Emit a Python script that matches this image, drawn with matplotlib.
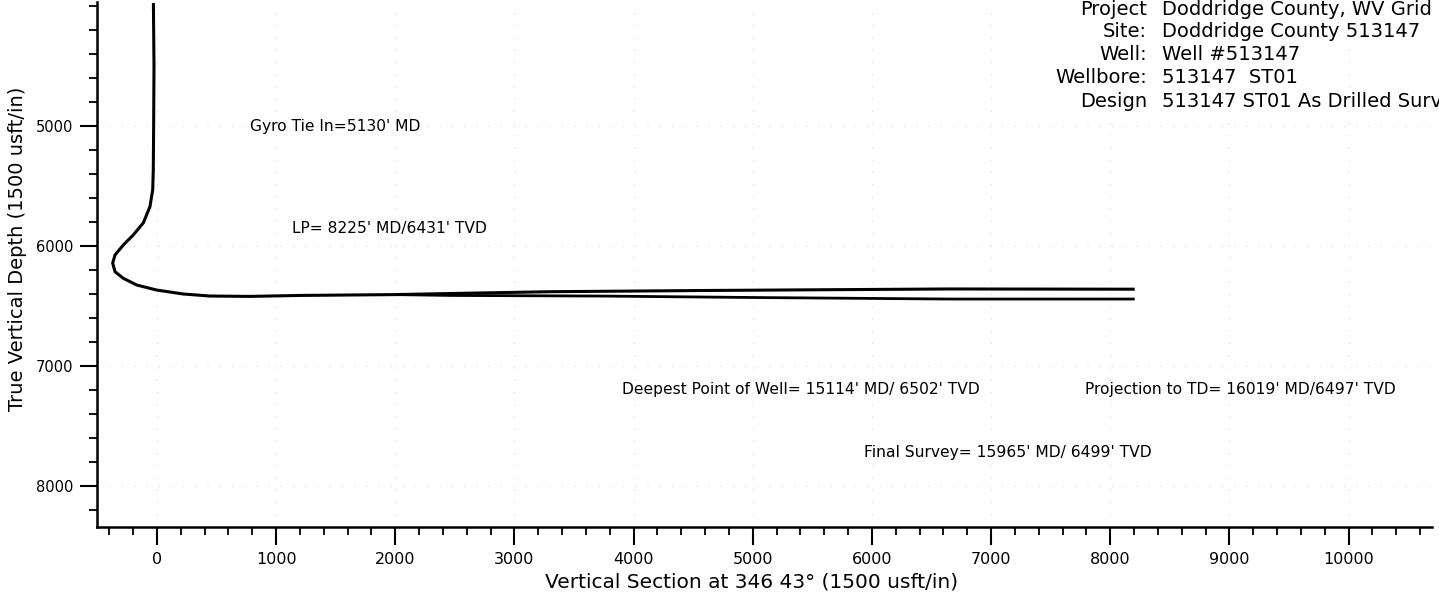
import matplotlib
matplotlib.use("Agg")
import matplotlib.pyplot as plt
from matplotlib.ticker import MultipleLocator

plt.rcParams['font.family'] = ['DejaVu Sans']

# Shared build section (vertical section ft, TVD ft)
curve_vs = [-30, -25, -28, -31, -36, -59, -115, -199, -283, -352, -372, -352,
            -283, -170, -3, 221, 445, 780, 1200, 2000]
curve_tvd = [3975, 4500, 5000, 5367, 5533, 5672, 5808, 5908, 5992, 6075, 6142,
             6214, 6269, 6325, 6367, 6400, 6417, 6420, 6412, 6405]

# Two laterals
upper_vs = [2000, 2458, 3297, 4555, 6653, 8205]
upper_tvd = [6405, 6396, 6381, 6371, 6358, 6360]
lower_vs = [2000, 2458, 3716, 4975, 6653, 8205]
lower_tvd = [6405, 6412, 6417, 6429, 6442, 6442]

annotations = [
    ("Gyro Tie In=5130' MD", 780, 5000),
    ("LP= 8225' MD/6431' TVD", 1133, 5858),
    ("Deepest Point of Well= 15114' MD/ 6502' TVD", 3901, 7192),
    ("Projection to TD= 16019' MD/6497' TVD", 7785, 7192),
    ("Final Survey= 15965' MD/ 6499' TVD", 5931, 7717),
]

header_labels = ["Project", "Site:", "Well:", "Wellbore:", "Design"]
header_values = ["Doddridge County, WV Grid", "Doddridge County 513147",
                 "Well #513147", "513147  ST01", "513147 ST01 As Drilled Survey"]

W, H = 1439, 599
fig = plt.figure(figsize=(W / 100, H / 100), dpi=100)
left_px, right_px, top_px, bot_px = 97.4, 1432, 2.4, 526.8
ax = fig.add_axes([left_px / W, 1 - bot_px / H, (right_px - left_px) / W,
                   (bot_px - top_px) / H])

ax.set_xlim(-500, 10700)
ax.set_ylim(8340, 3970)

ax.grid(True, which='major', color='#dadada', linestyle=(0, (1, 10)), linewidth=0.8)

full_upper_vs = curve_vs + upper_vs[1:]
full_upper_tvd = curve_tvd + upper_tvd[1:]
ax.plot(full_upper_vs, full_upper_tvd, color='black', lw=2.2, solid_capstyle='butt')
ax.plot(lower_vs, lower_tvd, color='black', lw=2.0, solid_capstyle='butt')

for s in ['top', 'right']:
    ax.spines[s].set_visible(False)
for s in ['left', 'bottom']:
    ax.spines[s].set_linewidth(1.8)

ax.xaxis.set_minor_locator(MultipleLocator(200))
ax.yaxis.set_minor_locator(MultipleLocator(200))
ax.set_xticks([0, 1000, 2000, 3000, 4000, 5000, 6000, 7000, 8000, 9000, 10000])
ax.set_yticks([5000, 6000, 7000, 8000])
ax.tick_params(axis='x', which='major', length=13, width=1.5, pad=5, labelsize=11.5)
ax.tick_params(axis='x', which='minor', length=6, width=1.3)
ax.tick_params(axis='y', which='major', length=12.5, width=1.5, pad=5, labelsize=10.5)
ax.tick_params(axis='y', which='minor', length=6, width=1.3)

for txt, x, y in annotations:
    ax.text(x, y, txt, fontsize=11.2, ha='left', va='center')

fig.text(18 / W, 1 - 249 / H, "True Vertical Depth (1500 usft/in)", rotation=90,
         ha='center', va='center', fontsize=14)
fig.text(752 / W, 1 - 582 / H, "Vertical Section at 346 43° (1500 usft/in)",
         ha='center', va='center', fontsize=14.5)

baselines = [15, 37, 60, 83, 107]
for lab, val, b in zip(header_labels, header_values, baselines):
    fig.text(1147 / W, 1 - b / H, lab, ha='right', va='baseline', fontsize=14)
    fig.text(1162 / W, 1 - b / H, val, ha='left', va='baseline', fontsize=14)

fig.savefig("out.png", dpi=100)
